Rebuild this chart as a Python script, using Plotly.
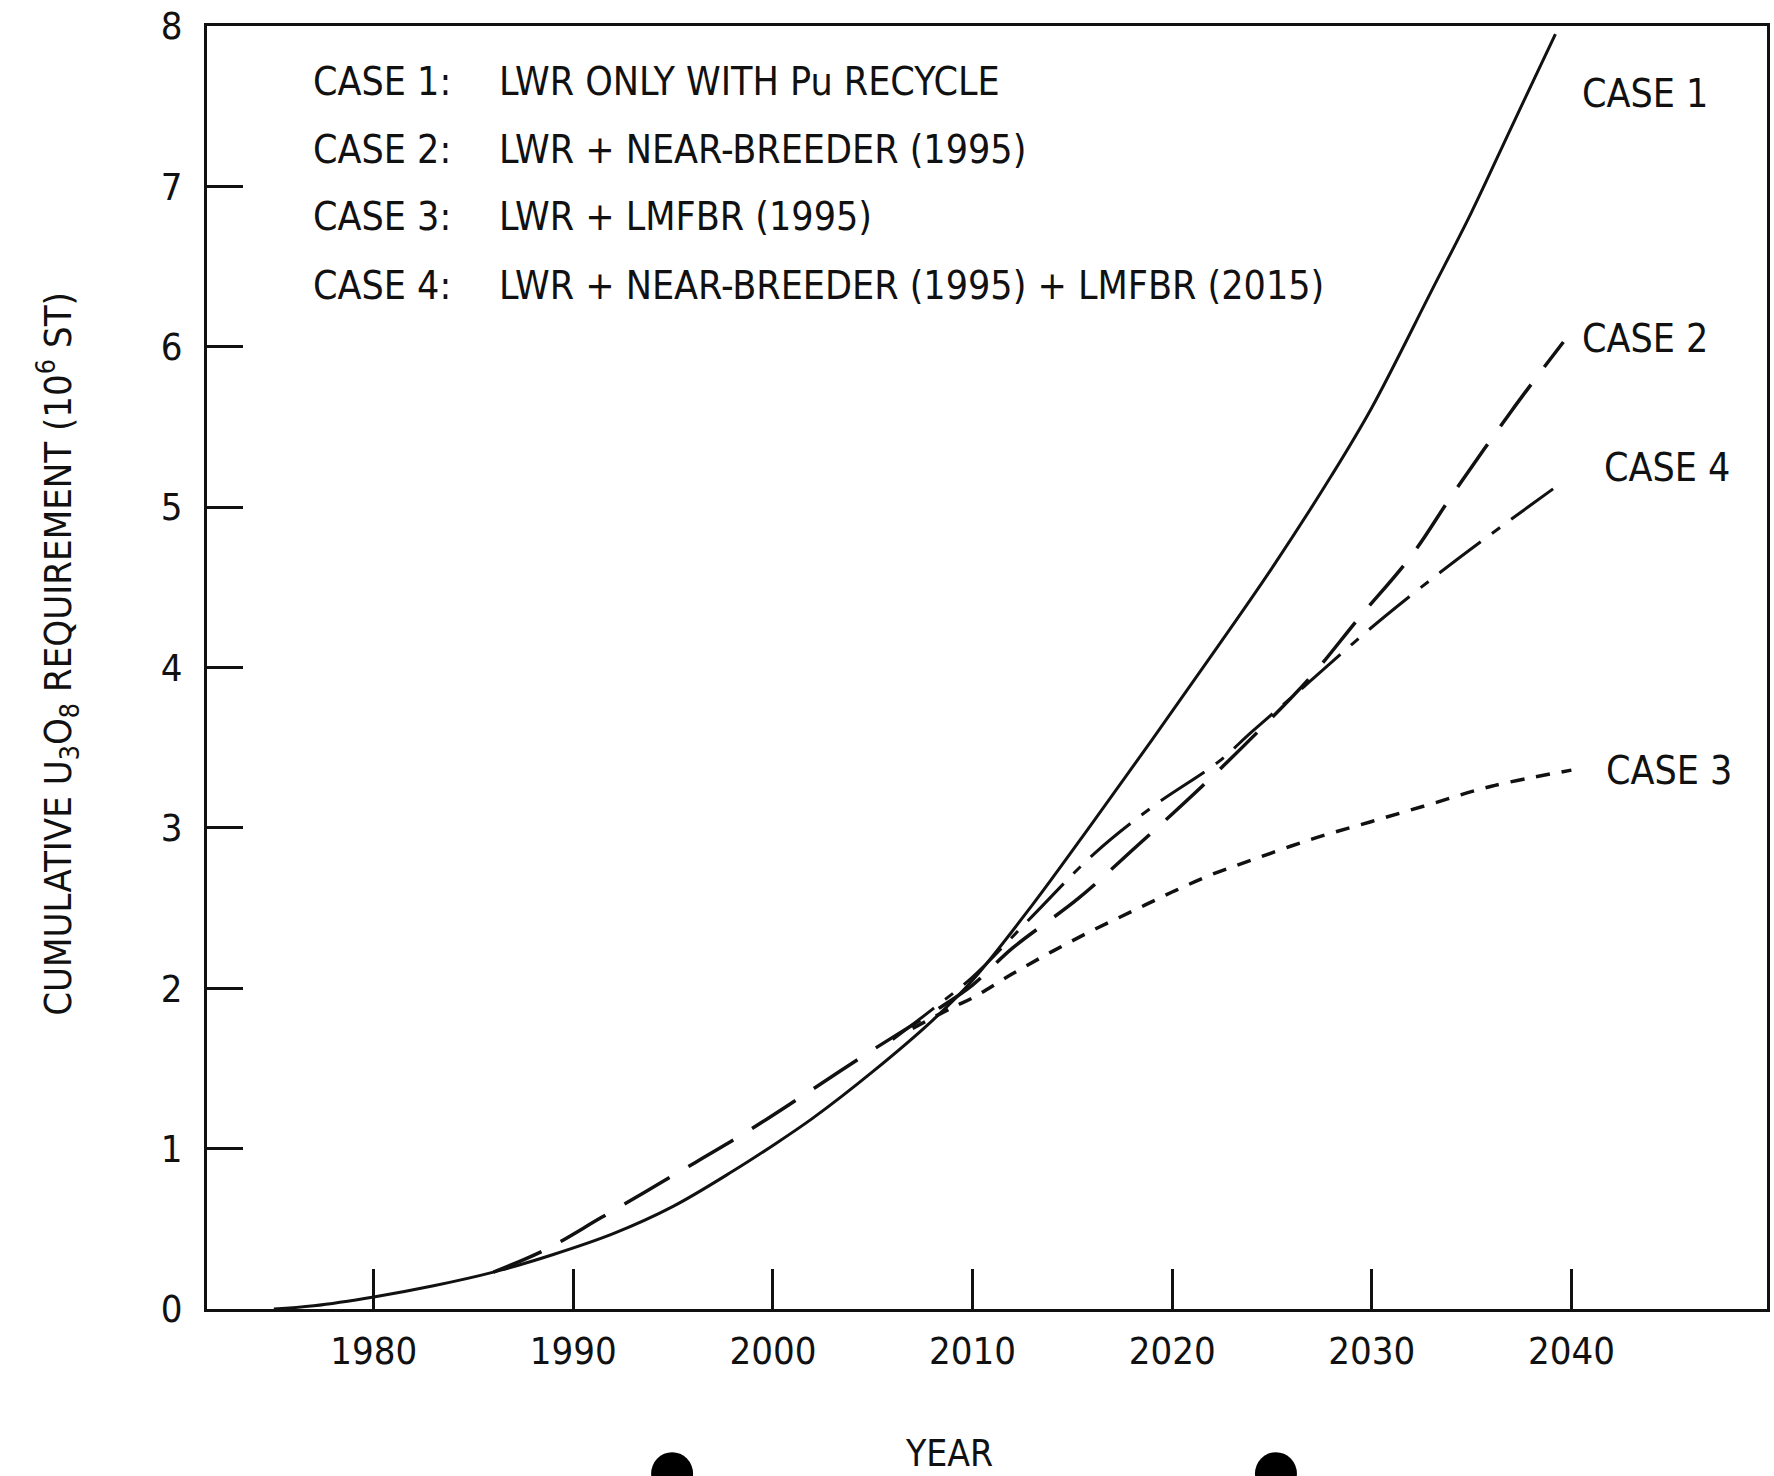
import plotly.graph_objects as go

# ---------------- data ----------------
case1_years = [1975, 1977, 1980, 1983, 1986, 1989, 1992, 1995, 1998, 2000, 2002, 2005,
               2008, 2010, 2013, 2016, 2019, 2022, 2025, 2028, 2030, 2033, 2035, 2037, 2039.2]
case1_vals = [0.0, 0.02, 0.075, 0.145, 0.23, 0.34, 0.47, 0.64, 0.86, 1.02, 1.19, 1.48,
              1.80, 2.05, 2.52, 3.03, 3.55, 4.08, 4.62, 5.20, 5.62, 6.35, 6.84, 7.37, 7.95]

case2_years = [1986, 1988.6, 1991.4, 1995.1, 1998.5, 2001.5, 2004.8, 2008, 2010, 2012,
               2015.3, 2018, 2021.5, 2024.3, 2027, 2029.3, 2032, 2034, 2037, 2039.6]
case2_vals = [0.23, 0.37, 0.57, 0.84, 1.09, 1.33, 1.60, 1.85, 2.02, 2.25,
              2.56, 2.86, 3.26, 3.60, 3.95, 4.30, 4.70, 5.07, 5.60, 6.03]

case3_years = [2007, 2009, 2010, 2012, 2014, 2016, 2018, 2020, 2022, 2024, 2027, 2030,
               2033, 2036, 2040]
case3_vals = [1.75, 1.88, 1.94, 2.09, 2.23, 2.36, 2.48, 2.60, 2.71, 2.80, 2.93, 3.04,
              3.15, 3.26, 3.36]

case4_years = [2006, 2008, 2010, 2013, 2016.1, 2019, 2022.3, 2024, 2026.6, 2029.9,
               2033.5, 2036.5, 2039.6]
case4_vals = [1.68, 1.87, 2.07, 2.45, 2.84, 3.13, 3.41, 3.60, 3.88, 4.24,
              4.60, 4.88, 5.16]

x_ticks = [1980, 1990, 2000, 2010, 2020, 2030, 2040]
x_tick_labels = ["1980", "1990", "2000", "2010", "2020", "2030", "2040"]
y_ticks = [0, 1, 2, 3, 4, 5, 6, 7, 8]
y_tick_labels = ["0", "1", "2", "3", "4", "5", "6", "7", "8"]

legend_cases = ["CASE 1:", "CASE 2:", "CASE 3:", "CASE 4:"]
legend_desc = ["LWR ONLY WITH Pu RECYCLE",
               "LWR + NEAR-BREEDER (1995)",
               "LWR + LMFBR (1995)",
               "LWR + NEAR-BREEDER (1995) + LMFBR (2015)"]
end_labels = ["CASE 1", "CASE 2", "CASE 4", "CASE 3"]

x_title = "YEAR"
y_title = "CUMULATIVE U<sub>3</sub>O<sub>8</sub> REQUIREMENT (10<sup>6</sup> ST)"

# ---------------- figure ----------------
FONT = "Liberation Sans Narrow, DejaVu Sans Condensed, Roboto Condensed, Arial Narrow, Liberation Sans, sans-serif"
INK = "#111111"

W, H = 1774, 1476
L, R, T, B = 207, 4, 19, 167
PW, PH = W - L - R, H - T - B

def px(xp):
    return (xp - L) / PW

def py(yp):
    return (H - B - yp) / PH

fig = go.Figure()
fig.add_trace(go.Scatter(x=case1_years, y=case1_vals, mode="lines", line_shape="spline",
                         line=dict(color=INK, width=3), showlegend=False))
fig.add_trace(go.Scatter(x=case2_years, y=case2_vals, mode="lines", line_shape="spline",
                         line=dict(color=INK, width=3.5, dash="52px,22px"), showlegend=False))
fig.add_trace(go.Scatter(x=case3_years, y=case3_vals, mode="lines", line_shape="spline",
                         line=dict(color=INK, width=3.5, dash="14px,12px"), showlegend=False))
fig.add_trace(go.Scatter(x=case4_years, y=case4_vals, mode="lines", line_shape="spline",
                         line=dict(color=INK, width=3, dash="52px,14px,10px,14px"), showlegend=False))

TXT = 39
annotations = []
legend_rows_y = [75, 143, 211, 280]
for txt, yy in zip(legend_cases, legend_rows_y):
    annotations.append(dict(x=px(311), y=py(yy), xref="paper", yref="paper", text=txt,
                            showarrow=False, xanchor="left", yanchor="middle",
                            font=dict(family=FONT, size=TXT, color=INK)))
for txt, yy in zip(legend_desc, legend_rows_y):
    annotations.append(dict(x=px(498), y=py(yy), xref="paper", yref="paper", text=txt,
                            showarrow=False, xanchor="left", yanchor="middle",
                            font=dict(family=FONT, size=TXT, color=INK)))

end_pos = [(1583, 87), (1583, 333), (1605, 463), (1607, 768)]
for txt, (xx, yy) in zip(end_labels, end_pos):
    annotations.append(dict(x=px(xx), y=py(yy), xref="paper", yref="paper", text=txt,
                            showarrow=False, xanchor="left", yanchor="middle",
                            font=dict(family=FONT, size=TXT, color=INK)))

annotations.append(dict(x=px(950), y=py(1454), xref="paper", yref="paper", text=x_title,
                        showarrow=False, xanchor="center", yanchor="middle",
                        font=dict(family=FONT, size=37, color=INK)))
annotations.append(dict(x=px(57), y=py(650), xref="paper", yref="paper", text=y_title,
                        showarrow=False, xanchor="center", yanchor="middle", textangle=-90,
                        font=dict(family=FONT, size=38, color=INK)))

shapes = []
for cx in [673, 1278]:
    shapes.append(dict(type="circle", xref="paper", yref="paper",
                       x0=px(cx - 21), x1=px(cx + 21), y0=py(1496), y1=py(1453),
                       fillcolor="black", line=dict(color="black", width=0)))

fig.update_layout(
    width=W, height=H,
    margin=dict(l=L, r=R, t=T, b=B, pad=0),
    paper_bgcolor="white", plot_bgcolor="white",
    annotations=annotations, shapes=shapes,
    showlegend=False,
)
fig.update_xaxes(range=[1971.65, 2049.8], tickvals=x_ticks, ticktext=x_tick_labels,
                 showgrid=False, zeroline=False, showline=True, linecolor=INK, linewidth=3,
                 mirror=True, ticks="inside", ticklen=40, tickwidth=3, tickcolor=INK,
                 ticklabelstandoff=6, ticklabeloverflow="allow",
                 tickfont=dict(family=FONT, size=38, color=INK))
fig.update_yaxes(range=[0, 8], tickvals=y_ticks, ticktext=y_tick_labels,
                 showgrid=False, zeroline=False, showline=True, linecolor=INK, linewidth=3,
                 mirror=True, ticks="inside", ticklen=36, tickwidth=3, tickcolor=INK,
                 ticklabelstandoff=14, ticklabeloverflow="allow",
                 tickfont=dict(family=FONT, size=38, color=INK))

fig.write_html("out.html")
